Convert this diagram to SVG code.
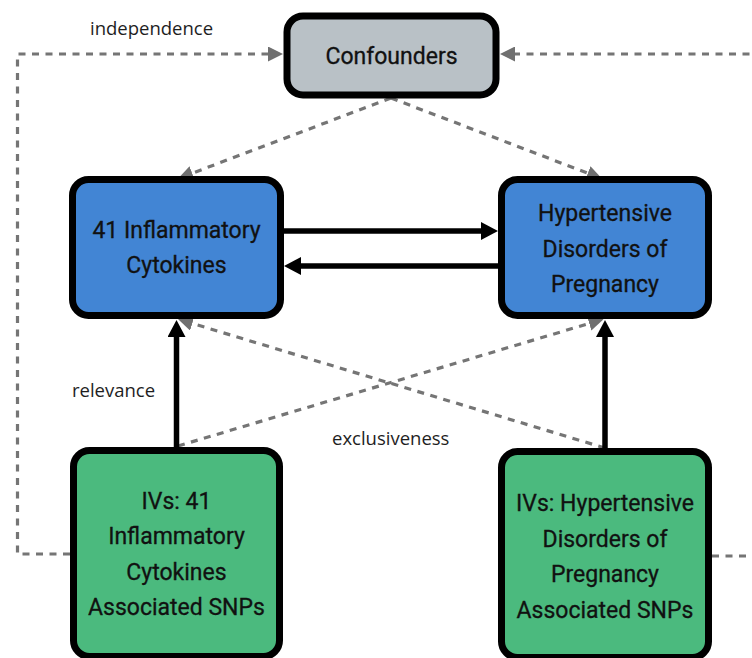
<svg xmlns="http://www.w3.org/2000/svg" width="752" height="658" viewBox="0 0 752 658">
  <style>
    .box { stroke: #000; stroke-width: 7; }
    .conf { fill: #b9c1c6; }
    .blue { fill: #4285d4; }
    .green { fill: #4bba7e; }
    .ntext { font-family: Roboto, "Liberation Sans", sans-serif; font-size: 23px; fill: #111; stroke: #111; stroke-width: 0.3; text-anchor: middle; }
    .label { font-family: "Open Sans", "Liberation Sans", sans-serif; font-size: 18.5px; fill: #1e1e1e; }
    .solid { fill: none; stroke: #000; stroke-width: 5.5; }
    .dash { fill: none; stroke: #757575; stroke-width: 3.2; stroke-dasharray: 7 6.5; }
  </style>
  <defs>
    <marker id="ahBlack" viewBox="0 0 17 18" refX="7" refY="9" markerWidth="17" markerHeight="18" markerUnits="userSpaceOnUse" orient="auto">
      <path d="M0,0 L17,9 L0,18 Z" fill="#000"/>
    </marker>
    <marker id="ahGrey" viewBox="0 0 15 15" refX="5" refY="7.5" markerWidth="15" markerHeight="15" markerUnits="userSpaceOnUse" orient="auto">
      <path d="M0,0 L15,7.5 L0,15 Z" fill="#707070"/>
    </marker>
  </defs>

  <g id="connectors">
    <!-- independence loops -->
    <path class="dash" d="M70,554 L17.5,554 L17.5,54 L273,54" marker-end="url(#ahGrey)"/>
    <path class="dash" d="M712,556 L770,556 L770,54 L510,54" marker-end="url(#ahGrey)"/>
    <!-- confounders to exposures/outcomes -->
    <path class="dash" d="M391,98 L187.5,175" marker-end="url(#ahGrey)"/>
    <path class="dash" d="M391,98 L592.5,175" marker-end="url(#ahGrey)"/>
    <!-- exclusiveness -->
    <path class="dash" d="M178,446 L594,322" marker-end="url(#ahGrey)"/>
    <path class="dash" d="M605,448 L187.5,322" marker-end="url(#ahGrey)"/>
    <!-- causal arrows -->
    <path class="solid" d="M284,231 L488,231" marker-end="url(#ahBlack)"/>
    <path class="solid" d="M498,266 L294,266" marker-end="url(#ahBlack)"/>
    <!-- relevance -->
    <path class="solid" d="M176.5,447 L176.5,330" marker-end="url(#ahBlack)"/>
    <path class="solid" d="M605,449 L605,330" marker-end="url(#ahBlack)"/>
  </g>

  <g id="confounders">
    <rect class="box conf" x="287" y="16" width="209" height="79" rx="16"/>
    <text class="ntext" x="391.5" y="64">Confounders</text>
  </g>

  <g id="cytokines">
    <rect class="box blue" x="72.5" y="179.5" width="208" height="136" rx="16"/>
    <text class="ntext" x="176.5" y="238">41 Inflammatory</text>
    <text class="ntext" x="176.5" y="273">Cytokines</text>
  </g>

  <g id="hdp">
    <rect class="box blue" x="501.5" y="179.5" width="207" height="136" rx="16"/>
    <text class="ntext" x="605" y="221">Hypertensive</text>
    <text class="ntext" x="605" y="257">Disorders of</text>
    <text class="ntext" x="605" y="292">Pregnancy</text>
  </g>

  <g id="ivs-cytokines">
    <rect class="box green" x="73.5" y="450.5" width="206" height="206" rx="16"/>
    <text class="ntext" x="176.5" y="508.5">IVs: 41</text>
    <text class="ntext" x="176.5" y="544">Inflammatory</text>
    <text class="ntext" x="176.5" y="579.5">Cytokines</text>
    <text class="ntext" x="176.5" y="615">Associated SNPs</text>
  </g>

  <g id="ivs-hdp">
    <rect class="box green" x="501.5" y="451.5" width="207" height="206" rx="16"/>
    <text class="ntext" x="605" y="511">IVs: Hypertensive</text>
    <text class="ntext" x="605" y="546.5">Disorders of</text>
    <text class="ntext" x="605" y="582">Pregnancy</text>
    <text class="ntext" x="605" y="617.5">Associated SNPs</text>
  </g>

  <g id="labels">
    <text class="label" x="90" y="35">independence</text>
    <text class="label" x="72" y="397">relevance</text>
    <text class="label" x="332" y="445">exclusiveness</text>
  </g>
</svg>
